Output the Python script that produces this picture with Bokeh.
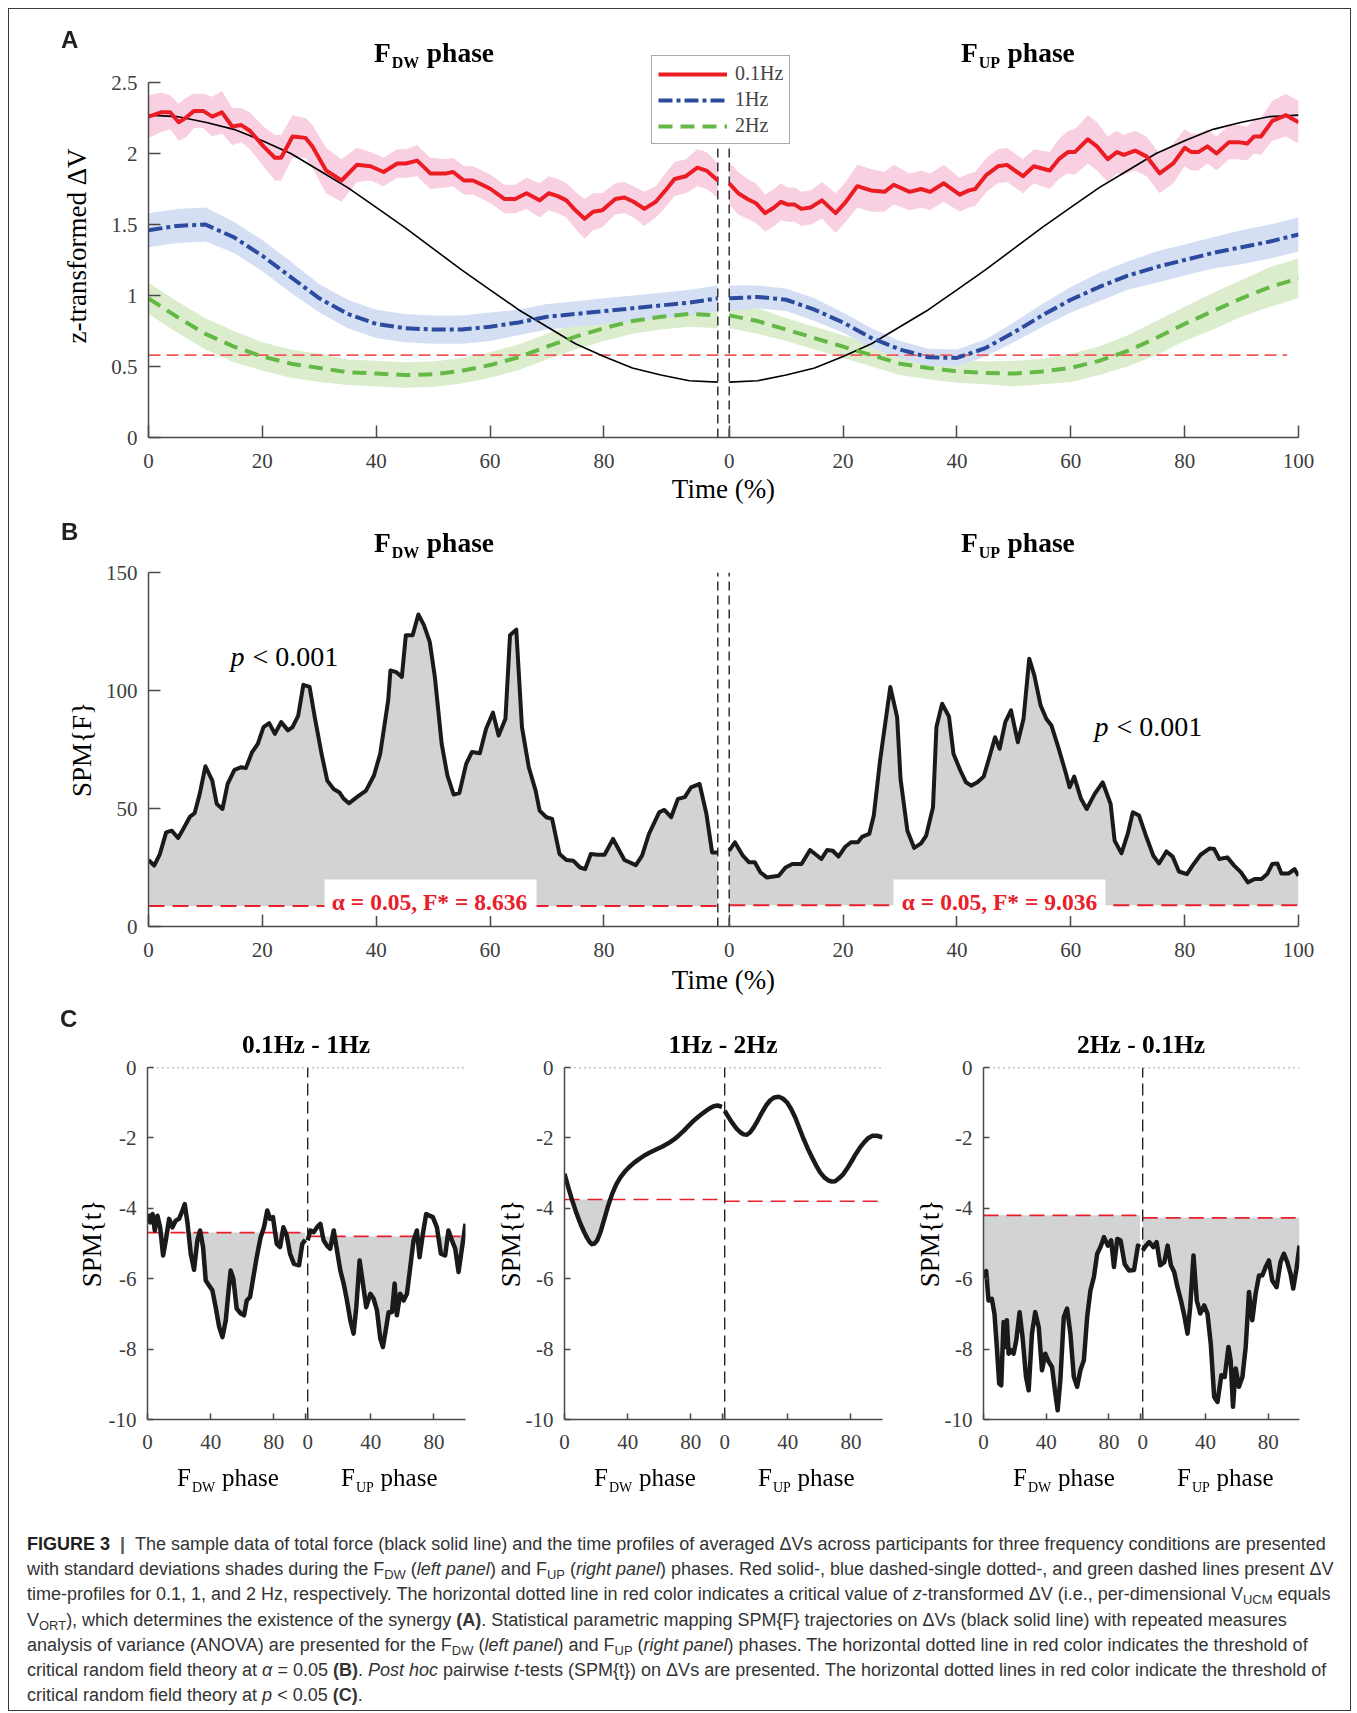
import numpy as np
from bokeh.plotting import figure
from bokeh.models import Range1d, FixedTicker, Label, Legend, LegendItem, BoxAnnotation, Div
from bokeh.layouts import column, row
from bokeh.embed import file_html
from bokeh.resources import INLINE

SERIF = "Liberation Serif"
SANS = "Liberation Sans"
AXC = "#4a4a4a"

# ---------------- DATA ----------------
T5 = [0, 5, 10, 15, 20, 25, 30, 35, 40, 45, 50, 55, 60, 65, 70, 75, 80, 85, 90, 95, 100]

# Panel A : 0.1 Hz (red)
red_t_dw = [0, 2.2, 3.8, 5.3, 6.5, 8, 9.6, 11.2, 12.9, 14.7,
            16.3, 17.8, 20.2, 22.2, 23.3, 25.3, 27.6, 28.8, 31.2, 33.9,
            36.6, 39, 41.3, 43.7, 45.2, 47.2, 49.5, 52.3, 53.5, 55.4,
            57, 58.6, 60.1, 62.5, 64.4, 66.4, 68.7, 70.3, 71.9, 73.4,
            75, 76.6, 78.1, 79.7, 82, 83.6, 85.2, 87.1, 89.1, 90.8,
            92.4, 94.4, 96.4, 98, 100]
red_v_dw = [2.26, 2.29, 2.29, 2.22, 2.25, 2.30, 2.30, 2.26, 2.29, 2.19,
            2.20, 2.16, 2.05, 1.97, 1.97, 2.12, 2.11, 2.05, 1.88, 1.81,
            1.92, 1.91, 1.87, 1.93, 1.93, 1.95, 1.86, 1.86, 1.87, 1.81,
            1.81, 1.78, 1.75, 1.68, 1.68, 1.72, 1.67, 1.72, 1.70, 1.67,
            1.60, 1.54, 1.59, 1.60, 1.68, 1.69, 1.66, 1.61, 1.66, 1.74,
            1.82, 1.84, 1.90, 1.88, 1.81]
red_sd_dw = [0.15, 0.14, 0.12, 0.13, 0.14, 0.12, 0.12, 0.14, 0.15, 0.13,
             0.12, 0.13, 0.14, 0.16, 0.16, 0.15, 0.14, 0.15, 0.16, 0.15,
             0.12, 0.10, 0.10, 0.10, 0.10, 0.11, 0.11, 0.10, 0.10, 0.10,
             0.10, 0.10, 0.10, 0.10, 0.10, 0.11, 0.12, 0.12, 0.12, 0.12,
             0.13, 0.14, 0.13, 0.12, 0.11, 0.11, 0.11, 0.12, 0.11, 0.12,
             0.12, 0.12, 0.13, 0.13, 0.12]
red_t_up = [0, 1.6, 3.2, 4.7, 6.3, 7.9, 9.1, 10.3, 11.5, 12.7,
            14.3, 16.3, 18.7, 20.3, 22.5, 24.9, 27.3, 28.9, 31.7, 33.7,
            35.3, 37.7, 40.5, 42.1, 43.2, 45.2, 47.2, 48.8, 51.6, 53.5,
            56.3, 57.9, 59.5, 60.7, 63, 64.6, 66.5, 68.1, 69.3, 71.3,
            73.3, 75.6, 78, 80, 81.2, 82.4, 84, 85.6, 87.8, 89.4,
            91, 92.2, 93.4, 95.4, 97.8, 100]
red_v_up = [1.79, 1.72, 1.68, 1.65, 1.58, 1.62, 1.66, 1.64, 1.64, 1.61,
            1.62, 1.67, 1.58, 1.65, 1.77, 1.74, 1.73, 1.78, 1.73, 1.75,
            1.73, 1.79, 1.71, 1.74, 1.75, 1.85, 1.91, 1.92, 1.84, 1.91,
            1.88, 1.96, 2.01, 2.01, 2.10, 2.05, 1.96, 2.01, 1.99, 2.02,
            1.98, 1.86, 1.93, 2.04, 2.01, 2.01, 2.05, 2.00, 2.08, 2.08,
            2.07, 2.12, 2.12, 2.23, 2.27, 2.22]
red_sd_up = [0.15, 0.15, 0.14, 0.14, 0.13, 0.13, 0.13, 0.12, 0.12, 0.12,
             0.12, 0.13, 0.14, 0.14, 0.15, 0.15, 0.14, 0.14, 0.13, 0.13,
             0.13, 0.13, 0.12, 0.12, 0.12, 0.12, 0.12, 0.12, 0.12, 0.12,
             0.13, 0.14, 0.15, 0.16, 0.17, 0.17, 0.16, 0.15, 0.14, 0.14,
             0.14, 0.14, 0.14, 0.13, 0.13, 0.13, 0.12, 0.12, 0.12, 0.12,
             0.12, 0.12, 0.13, 0.14, 0.15, 0.15]

# Panel A : 1 Hz (blue) and 2 Hz (green), sampled at T5
blue_v_dw = [1.46, 1.49, 1.50, 1.41, 1.28, 1.13, 0.98, 0.87, 0.80, 0.77, 0.76,
             0.76, 0.78, 0.81, 0.85, 0.87, 0.89, 0.91, 0.93, 0.95, 0.98]
blue_sd_dw = [0.12, 0.12, 0.12, 0.11, 0.11, 0.11, 0.10, 0.10, 0.10, 0.10, 0.10,
              0.10, 0.10, 0.09, 0.09, 0.09, 0.09, 0.09, 0.09, 0.09, 0.09]
blue_v_up = [0.98, 0.99, 0.97, 0.90, 0.81, 0.70, 0.62, 0.565, 0.56, 0.63, 0.74,
             0.86, 0.97, 1.06, 1.14, 1.20, 1.25, 1.30, 1.34, 1.38, 1.43]
blue_sd_up = [0.09, 0.08, 0.08, 0.08, 0.07, 0.07, 0.06, 0.06, 0.06, 0.06, 0.07,
              0.08, 0.09, 0.10, 0.10, 0.11, 0.11, 0.11, 0.12, 0.12, 0.12]
green_v_dw = [0.98, 0.85, 0.73, 0.64, 0.57, 0.52, 0.49, 0.46, 0.45, 0.44, 0.445,
              0.47, 0.51, 0.565, 0.64, 0.71, 0.77, 0.82, 0.85, 0.87, 0.86]
green_sd_dw = [0.11, 0.11, 0.11, 0.11, 0.10, 0.10, 0.10, 0.09, 0.09, 0.09, 0.09,
               0.09, 0.09, 0.09, 0.09, 0.09, 0.09, 0.09, 0.09, 0.09, 0.09]
green_v_up = [0.86, 0.82, 0.76, 0.70, 0.64, 0.58, 0.52, 0.49, 0.465, 0.455, 0.45,
              0.465, 0.49, 0.54, 0.61, 0.70, 0.80, 0.89, 0.98, 1.06, 1.12]
green_sd_up = [0.09, 0.09, 0.08, 0.08, 0.08, 0.08, 0.08, 0.08, 0.08, 0.08, 0.09,
               0.09, 0.10, 0.10, 0.11, 0.12, 0.12, 0.13, 0.13, 0.14, 0.14]
# total force (black), scaled to the same axis
force_dw = [2.27, 2.26, 2.22, 2.17, 2.09, 2.00, 1.88, 1.76, 1.62, 1.48, 1.33,
            1.18, 1.04, 0.90, 0.78, 0.66, 0.57, 0.49, 0.44, 0.40, 0.39]
force_up = [0.39, 0.40, 0.44, 0.49, 0.57, 0.66, 0.78, 0.90, 1.04, 1.18, 1.33,
            1.48, 1.62, 1.76, 1.88, 2.00, 2.09, 2.17, 2.22, 2.26, 2.27]
crit_A = 0.58

# Panel B : SPM{F}
spmF_t_dw = [0, 1, 2, 3.1, 4.1, 5.2, 6.1, 7.3, 8.1, 9,
             10, 11.2, 12, 13, 13.9, 15.1, 16.3, 17.1, 18.2, 19.2,
             20.2, 21.2, 22.2, 23.3, 24.5, 25.3, 26.3, 27.2, 28.3, 29.2,
             30.4, 31.4, 32.5, 33.5, 34.3, 35.2, 36.6, 38.2, 39.6, 40.7,
             42.1, 42.5, 43.5, 44.5, 45.2, 46.4, 47.4, 48.4, 49.4, 50.3,
             51.5, 52.5, 53.6, 54.6, 55.8, 56.8, 58.2, 59.3, 60.5, 61.5,
             62.7, 63.5, 64.6, 65.6, 66.8, 68, 68.7, 69.9, 70.9, 72.2,
             73.4, 74.6, 75.8, 76.7, 77.7, 78.9, 80.1, 81.6, 83.6, 85.6,
             86.7, 87.9, 89.7, 90.6, 91.8, 93, 94.2, 95.3, 96.8, 98,
             99, 100]
spmF_v_dw = [28.2, 25.8, 30.7, 39.9, 40.6, 37.5, 41.3, 46.6, 48, 56.2,
             67.9, 61.8, 51.9, 49.8, 60.4, 66.4, 67.5, 67.1, 73.9, 77.4,
             84.5, 86.2, 81.6, 86.6, 83.1, 84.5, 89.4, 102.4, 101.5, 88.7,
             73.2, 61.8, 58.3, 56.9, 54.1, 52.2, 54.8, 57.6, 64, 73.2,
             95.8, 108.5, 107.8, 105.7, 123.4, 123.4, 132.2, 127.6, 120.6, 105.7,
             77.4, 64, 55.9, 56.5, 68.9, 73.9, 73.4, 83.8, 90.6, 80.9,
             88, 123.4, 125.8, 84.5, 67.5, 57.6, 49.1, 46.3, 45.6, 30.7,
             28.2, 27.9, 25, 24.3, 30.7, 30.4, 30.4, 37.1, 28.2, 26,
             30, 39.2, 48.4, 49.4, 46.3, 54.1, 54.8, 59, 60.4, 47.7,
             31.4, 31.4]
spmF_t_up = [0, 1, 2.4, 3.5, 4.5, 5.5, 6.6, 8.7, 9.9, 11.1,
             12.7, 14.2, 16.2, 17.2, 18.2, 19.2, 20.4, 21.4, 22.6, 23.4,
             24.6, 25.4, 26.5, 28.3, 29.5, 30.1, 31.3, 32.5, 33.7, 34.6,
             35.8, 36.4, 37.4, 38.6, 39.4, 40.6, 41.6, 42.5, 43.6, 44.7,
             45.7, 46.7, 47.5, 48.5, 49.5, 50.7, 51.7, 52.7, 53.6, 54.7,
             55.7, 56.6, 57.8, 59, 59.8, 60.6, 61.8, 62.8, 64.2, 65.6,
             67, 67.7, 68.9, 70, 70.9, 72, 73.3, 74.5, 75.5, 76.8,
             77.9, 79, 80.4, 81.6, 82.8, 84.4, 85.2, 86.1, 87.5, 88.7,
             89.9, 91.1, 92.3, 93.5, 94.5, 95.4, 96.3, 97, 98.3, 99.3,
             100]
spmF_v_up = [32.1, 35.7, 30, 27.2, 27.2, 22.9, 20.8, 21.5, 25, 26.5,
             26.5, 32.4, 28.6, 32.4, 32.1, 29.6, 33.8, 35.7, 35.7, 38.1,
             39.2, 47, 70.3, 101.5, 88.7, 62.5, 40.6, 33.3, 35.2, 38.5,
             50.5, 84.5, 94.4, 89, 73.2, 66.1, 61.1, 59.7, 61.1, 63.5,
             71.7, 80.2, 75.3, 86.6, 91.6, 78.1, 88, 113.5, 106.4, 93.7,
             88, 85.2, 76, 66.1, 59, 63.5, 54.1, 49.8, 56.2, 61.1,
             51.9, 36.4, 31, 39.2, 48.4, 47, 37.8, 30, 26.7, 31.8,
             29.6, 23.3, 22.2, 26.5, 30.4, 33.1, 32.8, 28.6, 29.3, 25.8,
             22.9, 18.7, 20.1, 20.1, 22.2, 26.5, 26.7, 22.5, 22.5, 24.3,
             21.5]
thrF_dw = 8.636
thrF_up = 9.036

# Panel C : SPM{t}
c1_t_dw = [0, 1.7, 3.2, 4.6, 6.3, 8, 9.9, 11.6, 13.7, 15.8,
           17.9, 20, 22.2, 23.6, 25.3, 27.4, 29.5, 31.6, 33.3, 35.2,
           36.9, 39, 41.1, 43.2, 45.4, 47.5, 49.6, 51.3, 52.7, 54.4,
           56.5, 59.1, 61.2, 62.9, 65, 67.1, 69.2, 71.7, 73.8, 75.9,
           77.6, 79.5, 81.9, 84, 86.1, 88.2, 90.3, 92.8, 96, 98.1, 100]
c1_v_dw = [-4.16, -4.40, -4.16, -4.63, -4.21, -4.54, -5.34, -4.91, -4.30, -4.54,
           -4.35, -4.30, -4.06, -3.88, -4.40, -5.29, -5.75, -4.91, -4.63, -5.10,
           -6.05, -6.19, -6.33, -6.81, -7.37, -7.66, -7.18, -6.38, -5.77, -6.00,
           -6.85, -6.99, -7.04, -6.62, -6.52, -5.95, -5.39, -4.82, -4.54, -4.06,
           -4.30, -4.25, -5.01, -5.10, -4.54, -4.77, -5.29, -5.58, -5.62, -5.01, -4.90]
c1_t_up = [0, 1.7, 3.8, 5.9, 8, 10.1, 12.2, 14.3, 16.5, 18.6,
           20.7, 22.8, 24.9, 27, 29.1, 30.8, 32.9, 35, 37.1, 39.7,
           41.8, 43.9, 46, 47.7, 49.8, 51.3, 53.4, 55.1, 56.5, 58.6,
           60.8, 62.9, 65, 67.1, 69.2, 70.9, 73, 75.1, 77.2, 79.3,
           81.9, 84.4, 87.1, 89.2, 91.4, 93.5, 95.6, 97.7, 100]
c1_v_up = [-4.91, -4.63, -4.68, -4.54, -4.44, -4.91, -5.06, -5.15, -4.63, -5.20,
           -5.77, -6.14, -6.62, -7.18, -7.56, -6.81, -5.48, -6.14, -6.81, -6.43,
           -6.57, -6.90, -7.70, -7.94, -7.37, -6.95, -6.95, -6.14, -7.04, -6.43,
           -6.62, -6.43, -5.67, -4.91, -4.63, -5.39, -4.72, -4.16, -4.21, -4.25,
           -4.54, -5.29, -5.34, -4.63, -4.91, -5.15, -5.81, -5.15, -4.44]
c1_thr = [-4.69, -4.80]

c2_t_dw = [0, 2.5, 4.9, 7.5, 10.1, 12.5, 14.3, 16, 17.5, 19,
           20.7, 22.8, 24.9, 27.5, 30.2, 32.8, 35.4, 38, 40.7, 44,
           47, 50.6, 54.4, 58, 61.8, 65.5, 69.2, 72.4, 75.5, 78.7,
           81.9, 85, 88.2, 91.3, 94.5, 97, 99.8]
c2_v_dw = [-3.02, -3.42, -3.78, -4.13, -4.44, -4.68, -4.84, -4.96, -5.02, -5.00,
           -4.91, -4.68, -4.36, -3.95, -3.59, -3.32, -3.12, -2.97, -2.84, -2.71,
           -2.61, -2.50, -2.41, -2.33, -2.25, -2.16, -2.05, -1.93, -1.80, -1.65,
           -1.51, -1.39, -1.28, -1.18, -1.10, -1.08, -1.12]
c2_t_up = [0, 2.3, 4.6, 7.2, 9.9, 12, 14.1, 16.2, 18.4, 21,
           23.6, 26.2, 28.9, 31.5, 34.2, 36.8, 39.5, 42.1, 44.7, 47.3,
           50, 52.6, 55.3, 57.9, 60.5, 63.1, 65.8, 68, 70, 72.6,
           75.3, 77.9, 80.6, 83.2, 85.8, 88.5, 91.1, 93.7, 96.4, 100]
c2_v_up = [-1.23, -1.40, -1.56, -1.72, -1.84, -1.90, -1.91, -1.84, -1.70, -1.50,
           -1.28, -1.08, -0.93, -0.85, -0.83, -0.88, -0.99, -1.18, -1.42, -1.72,
           -2.03, -2.30, -2.55, -2.78, -2.98, -3.12, -3.21, -3.24, -3.23, -3.14,
           -3.02, -2.85, -2.65, -2.45, -2.27, -2.12, -2.00, -1.94, -1.94, -1.98]
c2_thr = [-3.75, -3.80]

c3_t_dw = [0, 1.7, 3.2, 5.3, 7, 8.5, 10, 11.3, 12.8, 13.9,
           14.9, 16, 17.5, 19.2, 20.9, 23, 24.9, 27.1, 28.8, 30.9,
           33, 35.2, 37.3, 39.4, 41.6, 43.7, 45.8, 47.3, 49, 51.2,
           53.3, 55.4, 57.6, 59.7, 61.8, 64, 66.1, 68.2, 70.4, 72.5,
           74.6, 76.8, 79.3, 81.4, 83.2, 85.3, 87.4, 90, 92.8, 96,
           98.5, 99.8]
c3_v_dw = [-6.0, -5.78, -6.62, -6.57, -7.0, -7.94, -8.98, -9.03, -7.23, -7.94,
           -7.18, -8.13, -8.03, -8.13, -7.75, -6.95, -7.66, -8.79, -9.17, -7.56,
           -6.95, -7.37, -8.6, -8.13, -8.36, -8.51, -9.26, -9.74, -8.88, -7.09,
           -6.85, -7.56, -8.79, -9.07, -8.6, -8.32, -7.09, -6.33, -5.95, -5.29,
           -5.10, -4.82, -5.06, -4.91, -5.67, -4.87, -4.91, -5.58, -5.77, -5.75,
           -5.06, -5.10]
c3_t_up = [0, 2.1, 4.2, 6.8, 8.9, 11.2, 13.8, 15.9, 18, 20.1,
           22.2, 24.4, 26.5, 28.6, 30.3, 32.4, 34.5, 36.7, 39.2, 41.3,
           43.4, 45.6, 47.7, 50.2, 52.3, 54.7, 56.1, 57.6, 59.3, 61.4,
           63.6, 65.7, 67.8, 69.9, 72, 74.2, 76.3, 78.4, 80.5, 82.6,
           85.4, 87.9, 90, 92.2, 94.3, 96, 98.1, 100]
c3_v_up = [-5.2, -5.06, -4.96, -5.10, -4.96, -5.62, -5.53, -5.06, -5.62, -5.81,
           -6.24, -6.62, -7.04, -7.56, -6.81, -5.34, -6.62, -6.99, -6.76, -6.99,
           -7.84, -9.36, -9.5, -8.74, -8.79, -7.94, -8.32, -9.64, -8.55, -9.07,
           -8.79, -7.94, -6.38, -7.18, -6.43, -5.91, -5.91, -5.67, -5.48, -6.05,
           -6.24, -5.53, -5.29, -5.53, -5.86, -6.28, -5.72, -5.06]
c3_thr = [-4.20, -4.27]

legend_labels = ["0.1Hz", "1Hz", "2Hz"]
c_titles = ["0.1Hz - 1Hz", "1Hz - 2Hz", "2Hz - 0.1Hz"]
ticks_AB = [0, 20, 40, 60, 80]
ticks_AB_up = [0, 20, 40, 60, 80, 100]
ticks_C = [0, 40, 80]
yticks_A = [0, 0.5, 1, 1.5, 2, 2.5]
yticks_B = [0, 50, 100, 150]
yticks_C = [-10, -8, -6, -4, -2, 0]

G_AB = 102.0   # offset of the F_UP half on the shared axis
G_C = 101.5


def arr(a, b):
    n = min(len(a), len(b))
    return np.asarray(a[:n], float), np.asarray(b[:n], float)


class Geo:
    def __init__(s, L, R, T, B, xr, yr):
        s.L, s.R, s.T, s.B, s.xr, s.yr = L, R, T, B, xr, yr

    def x(s, px):
        return s.xr[0] + (px - s.L) / (s.R - s.L) * (s.xr[1] - s.xr[0])

    def y(s, py):
        return s.yr[0] + (s.B - py) / (s.B - s.T) * (s.yr[1] - s.yr[0])


def new_fig(offx, offy, width, height, L, R, T, B, xr, yr):
    p = figure(width=width, height=height,
               x_range=Range1d(xr[0], xr[1]), y_range=Range1d(yr[0], yr[1]),
               output_backend="svg", toolbar_location=None,
               min_border_left=L - offx, min_border_right=offx + width - R,
               min_border_top=T - offy, min_border_bottom=offy + height - B)
    p.outline_line_color = None
    p.xgrid.visible = False
    p.ygrid.visible = False
    p.background_fill_color = "white"
    p.border_fill_color = "white"
    return p, Geo(L, R, T, B, xr, yr)


def style_axes(p, tick_len, y_lab_standoff, x_lab_standoff=0):
    for ax in (p.xaxis[0], p.yaxis[0]):
        ax.axis_line_color = AXC
        ax.axis_line_width = 1.5
        ax.major_tick_line_color = AXC
        ax.major_tick_line_width = 1.5
        ax.major_tick_in = tick_len
        ax.major_tick_out = 0
        ax.minor_tick_line_color = None
        ax.major_label_text_font = SERIF
        ax.major_label_text_font_size = "21px"
        ax.major_label_text_color = "#3d3d3d"
        ax.major_label_standoff = 11
        ax.axis_label_text_font = SERIF
        ax.axis_label_text_font_size = "27px"
        ax.axis_label_text_font_style = "normal"
        ax.axis_label_text_color = "black"
    p.xaxis[0].major_label_standoff = 16
    p.yaxis[0].axis_label_standoff = y_lab_standoff
    p.xaxis[0].axis_label_standoff = x_lab_standoff


def set_xticks(p, left_ticks, right_ticks, G, extra_blank=()):
    ticks = [float(t) for t in left_ticks] + [float(t) for t in extra_blank] + [float(t + G) for t in right_ticks]
    labels = [str(t) for t in left_ticks] + ["" for _ in extra_blank] + [str(t) for t in right_ticks]
    p.xaxis[0].ticker = FixedTicker(ticks=ticks)
    p.xaxis[0].major_label_overrides = dict(zip(ticks, labels))


def set_yticks(p, ticks):
    p.yaxis[0].ticker = FixedTicker(ticks=[float(t) for t in ticks])
    p.yaxis[0].major_label_overrides = {float(t): ("%g" % t) for t in ticks}


def txt(p, g, px, py, text, size, style="normal", color="black", align="left", font=SERIF):
    # py is the vertical centre of the text, in page pixels
    p.add_layout(Label(x=g.x(px), y=g.y(py), text=text, text_font=font,
                       text_font_size="%gpx" % size, text_font_style=style,
                       text_color=color, text_align=align, text_baseline="middle"))


# ---- HTML overlay texts (outside the plot frames) ----
overlay = []


def html_text(left, cy, inner, size, weight="normal", font=SERIF, center=False, color="#000"):
    tx = "translateX(-50%)" if center else "none"
    overlay.append(
        '<div style="position:fixed;left:%gpx;top:%gpx;height:%gpx;line-height:%gpx;font-family:\'%s\';'
        'font-size:%gpx;font-weight:%s;color:%s;white-space:nowrap;transform:%s;">%s</div>'
        % (left, cy - size / 2.0, size, size, font, size, weight, color, tx, inner))


def phase_html(sub, size, sub_size, drop):
    return ('F<span style="font-size:%gpx;position:relative;top:%gpx;margin-left:1px;">%s</span>'
            '<span style="margin-left:%gpx;">phase</span>' % (sub_size, drop, sub, size * 0.27))


# ================= PANEL A =================
A_TOP = 54
yA_top = 2.5 + (82 - A_TOP) * 2.5 / (437 - 82)
pA, gA = new_fig(0, 0, 1357, 510, 148, 1298, A_TOP, 437, (0, G_AB + 100), (0, yA_top))
style_axes(pA, 12, 16, 3)
pA.yaxis[0].bounds = (0, 2.5)
pA.xaxis[0].axis_label = "Time (%)"
pA.yaxis[0].axis_label = "z-transformed \u0394V"
set_xticks(pA, ticks_AB, ticks_AB_up, G_AB)
set_yticks(pA, yticks_A)

t5 = np.asarray(T5, float)
band_specs = [
    (red_t_dw, red_v_dw, red_sd_dw, red_t_up, red_v_up, red_sd_up, "#f8d0e1"),
    (T5, green_v_dw, green_sd_dw, T5, green_v_up, green_sd_up, "#dcedcd"),
    (T5, blue_v_dw, blue_sd_dw, T5, blue_v_up, blue_sd_up, "#d4dff4"),
]
for tdw, vdw, sdw, tup, vup, sup, col in band_specs:
    for tt, vv, ss, off in ((tdw, vdw, sdw, 0.0), (tup, vup, sup, G_AB)):
        n = min(len(tt), len(vv), len(ss))
        x = np.asarray(tt[:n], float) + off
        v = np.asarray(vv[:n], float)
        s = np.asarray(ss[:n], float)
        pA.varea(x=x, y1=v - s, y2=v + s, fill_color=col, fill_alpha=1.0)

pA.line([0, G_AB + 98], [crit_A, crit_A], line_color="#ef5a5a", line_width=1.6, line_dash="12 6")
pA.line(t5, force_dw, line_color="black", line_width=1.6)
pA.line(t5 + G_AB, force_up, line_color="black", line_width=1.6)

for xv in (100.0, G_AB):
    pA.line([xv, xv], [0, 2.5], line_color="#222222", line_width=1.4, line_dash="9 5")

x, v = arr(red_t_dw, red_v_dw)
r_red = pA.line(x, v, line_color="#ec1c24", line_width=4, line_join="round")
x, v = arr(red_t_up, red_v_up)
pA.line(x + G_AB, v, line_color="#ec1c24", line_width=4, line_join="round")
r_blue = pA.line(t5, blue_v_dw, line_color="#2c4b9f", line_width=4, line_dash="14 4 4 4")
pA.line(t5 + G_AB, blue_v_up, line_color="#2c4b9f", line_width=4, line_dash="14 4 4 4")
r_green = pA.line(t5, green_v_dw, line_color="#63b846", line_width=4, line_dash="14 8")
pA.line(t5 + G_AB, green_v_up, line_color="#63b846", line_width=4, line_dash="14 8")

legend = Legend(items=[LegendItem(label=legend_labels[0], renderers=[r_red]),
                       LegendItem(label=legend_labels[1], renderers=[r_blue]),
                       LegendItem(label=legend_labels[2], renderers=[r_green])],
                location=(651 - 148, 437 - 144))
legend.border_line_color = "#555555"
legend.border_line_width = 1.5
legend.background_fill_color = "white"
legend.background_fill_alpha = 1.0
legend.label_text_font = SERIF
legend.label_text_font_size = "20px"
legend.glyph_width = 69
legend.glyph_height = 18
legend.label_height = 18
legend.spacing = 3
legend.padding = 6
legend.margin = 0
legend.label_standoff = 8
pA.add_layout(legend)

TITLE_PX = 27.5
SUB_PX = 16
html_text(61, 39.5, "A", 24, "bold", SANS, color="#231f20")
html_text(374, 53, phase_html("DW", TITLE_PX, SUB_PX, 6), TITLE_PX, "bold")
html_text(961, 53, phase_html("UP", TITLE_PX, SUB_PX, 6), TITLE_PX, "bold")

# ================= PANEL B =================
OB = 510
pB, gB = new_fig(0, OB, 1357, 495, 148, 1298, 572, 926, (0, G_AB + 100), (0, 150))
style_axes(pB, 12, 6, 5)
pB.xaxis[0].axis_label = "Time (%)"
pB.yaxis[0].axis_label = "SPM{F}"
set_xticks(pB, ticks_AB, ticks_AB_up, G_AB)
set_yticks(pB, yticks_B)

x1, v1 = arr(spmF_t_dw, spmF_v_dw)
x2, v2 = arr(spmF_t_up, spmF_v_up)
x2 = x2 + G_AB
pB.varea(x=x1, y1=thrF_dw, y2=v1, fill_color="#d1d3d4")
pB.varea(x=x2, y1=thrF_up, y2=v2, fill_color="#d1d3d4")
pB.line([0, 100], [thrF_dw, thrF_dw], line_color="#e8202a", line_width=2, line_dash="16 8")
pB.line([G_AB, G_AB + 100], [thrF_up, thrF_up], line_color="#e8202a", line_width=2, line_dash="16 8")
for xv in (100.0, G_AB):
    pB.line([xv, xv], [0, 150], line_color="#222222", line_width=1.4, line_dash="9 5")
pB.line(x1, v1, line_color="#1a1a1a", line_width=4, line_join="round")
pB.line(x2, v2, line_color="#1a1a1a", line_width=4, line_join="round")

for (bl, br, cx, thr) in ((324, 536, 429, thrF_dw), (893, 1105, 999, thrF_up)):
    pB.add_layout(BoxAnnotation(left=gB.x(bl), right=gB.x(br), bottom=4.5, top=gB.y(879),
                                fill_color="white", fill_alpha=1.0, line_color=None))
    txt(pB, gB, cx, 901, "\u03b1 = 0.05, F* = %.3f" % thr, 23.5, "bold", "#e8202a", align="center")

txt(pB, gB, 230, 656, "p", 28, "italic")
txt(pB, gB, 252, 656, "< 0.001", 28)
txt(pB, gB, 1094, 726, "p", 28, "italic")
txt(pB, gB, 1116, 726, "< 0.001", 28)

html_text(61, 532, "B", 24, "bold", SANS, color="#231f20")
html_text(374, 543, phase_html("DW", TITLE_PX, SUB_PX, 6), TITLE_PX, "bold")
html_text(961, 543, phase_html("UP", TITLE_PX, SUB_PX, 6), TITLE_PX, "bold")

# ================= PANEL C =================
OC = 1005
c_specs = [
    (0, 480, 147, 465, c1_t_dw, c1_v_dw, c1_t_up, c1_v_up, c1_thr, -1),
    (480, 420, 564, 882, c2_t_dw, c2_v_dw, c2_t_up, c2_v_up, c2_thr, -3),
    (900, 457, 983, 1299, c3_t_dw, c3_v_dw, c3_t_up, c3_v_up, c3_thr, -3),
]
c_figs = []
for i, (offx, w, L, R, tdw, vdw, tup, vup, thr, ylst) in enumerate(c_specs):
    p, g = new_fig(offx, OC, w, 495, L, R, 1067, 1419, (0, G_C + 100), (-10, 0))
    style_axes(p, 6, ylst)
    p.xaxis[0].major_label_standoff = 15
    p.yaxis[0].axis_label = "SPM{t}"
    set_xticks(p, ticks_C, ticks_C, G_C, extra_blank=(100,))
    set_yticks(p, yticks_C)
    p.yaxis[0].major_label_overrides = {float(t): str(t) for t in yticks_C}

    xa, va = arr(tdw, vdw)
    xb, vb = arr(tup, vup)
    xb = xb + G_C
    p.varea(x=xa, y1=thr[0], y2=np.minimum(va, thr[0]), fill_color="#d1d3d4")
    p.varea(x=xb, y1=thr[1], y2=np.minimum(vb, thr[1]), fill_color="#d1d3d4")
    p.line([0, G_C + 100], [0, 0], line_color="#222222", line_width=1.5, line_dash="1 4")
    p.line([0, 100], [thr[0], thr[0]], line_color="#e8202a", line_width=1.7, line_dash="15 8")
    p.line([G_C, G_C + 100], [thr[1], thr[1]], line_color="#e8202a", line_width=1.7, line_dash="15 8")
    p.line([G_C, G_C], [-10, 0], line_color="#222222", line_width=1.4, line_dash="12 6")
    p.line(xa, va, line_color="#1a1a1a", line_width=4.5, line_join="round")
    p.line(xb, vb, line_color="#1a1a1a", line_width=4.5, line_join="round")
    c_figs.append(p)

    html_text((L + R) / 2.0, 1045, c_titles[i], 25.5, "bold", center=True)
    html_text(L + 30, 1477, phase_html("DW", 25, 14, 6), 25)
    html_text(L + 194, 1477, phase_html("UP", 25, 14, 6), 25)

html_text(60, 1019, "C", 24, "bold", SANS, color="#231f20")

# ================= CAPTION =================
SUB = '<span style="font-size:0.72em;vertical-align:-0.28em;line-height:0;">%s</span>'
caption_lines = [
    '<b style="color:#231f20;">FIGURE 3</b>&nbsp;&nbsp;<span style="color:#555;font-weight:bold;">|</span>&nbsp;&nbsp;The sample data of total force (black solid line) and the time profiles of averaged \u0394Vs across participants for three frequency conditions are presented',
    'with standard deviations shades during the F' + SUB % 'DW' + ' (<i>left panel</i>) and F' + SUB % 'UP' + ' (<i>right panel</i>) phases. Red solid-, blue dashed-single dotted-, and green dashed lines present \u0394V',
    'time-profiles for 0.1, 1, and 2 Hz, respectively. The horizontal dotted line in red color indicates a critical value of <i>z</i>-transformed \u0394V (i.e., per-dimensional V' + SUB % 'UCM' + ' equals',
    'V' + SUB % 'ORT' + '), which determines the existence of the synergy <b>(A)</b>. Statistical parametric mapping SPM{F} trajectories on \u0394Vs (black solid line) with repeated measures',
    'analysis of variance (ANOVA) are presented for the F' + SUB % 'DW' + ' (<i>left panel</i>) and F' + SUB % 'UP' + ' (<i>right panel</i>) phases. The horizontal dotted line in red color indicates the threshold of',
    'critical random field theory at <i>\u03b1</i> = 0.05 <b>(B)</b>. <i>Post hoc</i> pairwise <i>t</i>-tests (SPM{t}) on \u0394Vs are presented. The horizontal dotted lines in red color indicate the threshold of',
    'critical random field theory at <i>p</i> &lt; 0.05 <b>(C)</b>.',
]
LH = 25.2
lines_html = "".join('<div style="white-space:nowrap;height:%gpx;line-height:%gpx;">%s</div>' % (LH, LH, l)
                     for l in caption_lines)
border_html = ('<div style="position:fixed;left:8px;top:8px;width:1343px;height:1703px;'
               'border:1.5px solid #3a3a3a;box-sizing:border-box;pointer-events:none;z-index:100;"></div>')
caption = Div(text=border_html + "".join(overlay) +
              '<div style="padding:32px 0 0 27px;font-family:\'Liberation Sans\',Arial,sans-serif;'
              'font-size:18px;color:#333333;">' + lines_html + '</div>',
              width=1357, height=213, margin=0)

layout = column(pA, pB, row(*c_figs, spacing=0), caption, spacing=0)
html = file_html(layout, INLINE, title="Figure 3")
html = html.replace("<body>", '<body style="margin:0;padding:0;">', 1)
open("out.html", "w").write(html)
